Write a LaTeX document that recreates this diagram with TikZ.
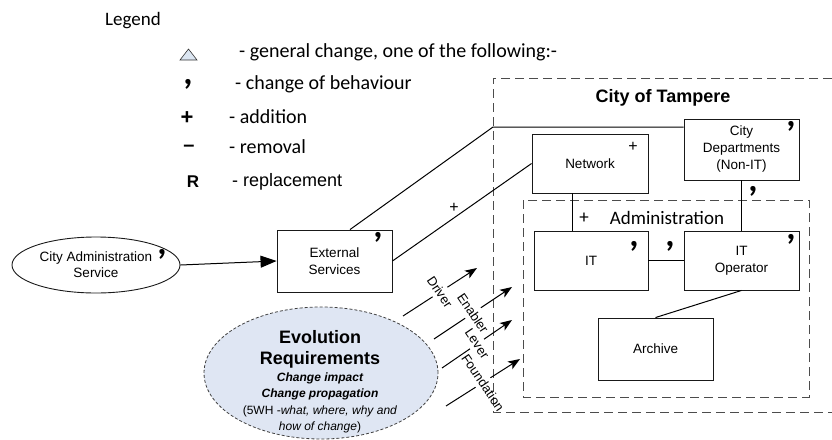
\documentclass[tikz,border=0pt]{standalone}
\usepackage{fontspec}
\setmainfont{Liberation Sans}
\newfontfamily\calibri{Carlito}
\usetikzlibrary{arrows.meta,shapes.geometric,calc}
\definecolor{evofill}{HTML}{DFE6F3}
\definecolor{legtri}{HTML}{DCE6F2}
\begin{document}
\begin{tikzpicture}[x=1pt,y=-1pt,
  box/.style={draw=black!90, line width=0.9pt, rectangle, inner sep=0pt, align=center, font=\fontsize{13.5}{17}\selectfont},
  conn/.style={line width=1pt, black},
  dbox/.style={draw=black!70, line width=1pt, dash pattern=on 9pt off 5pt},
  cmark/.style={inner sep=0pt, font=\calibri\bfseries\fontsize{36}{36}\selectfont},
  pmark/.style={inner sep=0pt, font=\fontsize{16}{16}\selectfont},
  lab/.style={inner sep=0pt, font=\fontsize{13}{13}\selectfont, rotate=-56},
  leg/.style={inner sep=0pt, anchor=west, font=\calibri\fontsize{20}{20}\selectfont},
  flow/.style={line width=1pt, -{Stealth[length=12pt,width=9pt,inset=3pt]}},
]
\useasboundingbox (0,0) rectangle (832,439);

% legend
\node[inner sep=0pt, anchor=west, font=\calibri\fontsize{19}{19}\selectfont] (legend) at (105,21) {Legend};
\draw[fill=legtri, draw=black!80, line width=0.6pt] (180,60) -- (197,60) -- (188.5,49) -- cycle;
\node[cmark] (lc) at (188,84) {,};
\node[inner sep=0pt, font=\bfseries\fontsize{22}{22}\selectfont] (lp) at (187,118) {+};
\node[inner sep=0pt, font=\bfseries\fontsize{20}{20}\selectfont] (lm) at (189,148) {--};
\node[inner sep=0pt, font=\bfseries\fontsize{17}{17}\selectfont] (lr) at (193,182) {R};
\node[leg] (t1) at (239,52) {- general change, one of the following:-};
\node[leg] (t2) at (235,84) {- change of behaviour};
\node[leg] (t3) at (229,117) {- addition};
\node[leg] (t4) at (229,147) {- removal};
\node[leg, font=\fontsize{18}{18}\selectfont] (t5) at (232,182) {- replacement};

% containers
\draw[dbox] (832,78) -- (493,78) -- (493,412) -- (832,412);
\draw[dbox] (523,200) rectangle (809,397);
\node[inner sep=0pt, font=\bfseries\fontsize{18}{18}\selectfont] (tam) at (663,98) {City of Tampere};
\node[inner sep=0pt, font=\calibri\fontsize{19}{19}\selectfont] (adm) at (667,218) {Administration};
\node[inner sep=0pt, font=\calibri\fontsize{19}{19}\selectfont] (admp) at (584,218) {+};

% nodes
\node[draw=black!90, line width=0.9pt, ellipse, minimum width=168pt, minimum height=56pt, inner sep=0pt, align=center, font=\fontsize{13.5}{16}\selectfont] (cas) at (96,265) {City Administration\\Service};
\node[box, minimum width=115pt, minimum height=62pt] (es) at (334.5,261) {External\\Services};
\node[box, minimum width=116pt, minimum height=59pt] (net) at (590,163.5) {Network};
\node[box, minimum width=115pt, minimum height=61pt] (cd) at (741.5,149.5) {City\\Departments\\(Non-IT)};
\node[box, minimum width=114pt, minimum height=59pt] (it) at (591,260.5) {IT};
\node[box, minimum width=115pt, minimum height=59pt] (itop) at (741.5,260.5) {IT\\Operator};
\node[box, minimum width=115pt, minimum height=62pt] (arch) at (655.5,349) {Archive};

\node[draw=black!75, fill=evofill, ellipse, dash pattern=on 3pt off 2pt, line width=0.8pt, minimum width=234pt, minimum height=132pt] (evo) at (321,373) {};
\node[anchor=base, inner sep=0pt, font=\bfseries\fontsize{18}{18}\selectfont] (ev1) at (320,343) {Evolution};
\node[anchor=base, inner sep=0pt, font=\bfseries\fontsize{18}{18}\selectfont] (ev2) at (320,364) {Requirements};
\node[anchor=base, inner sep=0pt, font=\bfseries\itshape\fontsize{12}{12}\selectfont] (ev3) at (320,381) {Change impact};
\node[anchor=base, inner sep=0pt, font=\bfseries\itshape\fontsize{12}{12}\selectfont] (ev4) at (320,397) {Change propagation};
\node[anchor=base, inner sep=0pt, font=\fontsize{12}{12}\selectfont] (ev5) at (320,414) {(5WH -\textit{what, where, why and}};
\node[anchor=base, inner sep=0pt, font=\fontsize{12}{12}\selectfont] (ev6) at (320,430) {\textit{how of change})};

% connectors
\coordinate (kink) at (493,127);
\draw[conn] ([xshift=15.5pt]es.north) -- (kink) -- (cd.west |- kink);
\draw[conn] (es.east) -- (net.west);
\draw[conn] ([xshift=-18pt]net.south) -- ([xshift=-18pt]net.south |- it.north);
\draw[conn] (cd.south) -- (itop.north);
\draw[conn] (it.east) -- (itop.west);
\draw[conn] (itop.south) -- (arch.north);
\draw[line width=1pt, -{Triangle[length=16pt,width=12pt]}] (cas.east) -- (es.west);

% change marks
\node[pmark] (netp) at (633,147) {+};
\node[pmark] (linep) at (454,208) {+};
\node[cmark] (c1) at (162,254) {,};
\node[cmark] (c2) at (378,237) {,};
\node[cmark] (c3) at (791,126) {,};
\node[cmark] (c4) at (753,191) {,};
\node[cmark] (c5) at (634,246) {,};
\node[cmark] (c6) at (670,246) {,};
\node[cmark] (c7) at (791,239) {,};

% requirement arrows
\coordinate (dA) at (403,316); \coordinate (dB) at (477,268);
\coordinate (eA) at (434,339); \coordinate (eB) at (512,287);
\coordinate (lA) at (442,368); \coordinate (lB) at (512,320);
\coordinate (fA) at (446,406); \coordinate (fB) at (520,359);
\foreach \a/\b/\t/\n in {dA/dB/Driver/ldr, eA/eB/Enabler/len, lA/lB/Lever/llv, fA/fB/Foundation/lfd}{
  \draw[conn] (\a) -- ($(\a)!0.4!(\b)$);
  \draw[flow] ($(\a)!0.6!(\b)$) -- (\b);
  \node[lab] (\n) at ($(\a)!0.5!(\b)$) {\t};
}
\end{tikzpicture}
\end{document}
